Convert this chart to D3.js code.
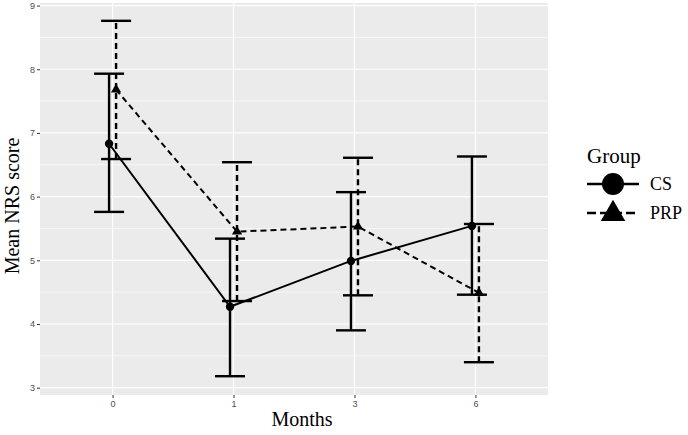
<!DOCTYPE html>
<html>
<head>
<meta charset="utf-8">
<script src="https://cdn.jsdelivr.net/npm/d3@7"></script>
<style>
body{margin:0;background:#fff;}
</style>
</head>
<body>
<svg width="688" height="435"></svg>
<script>
// data
var months = ["0", "1", "3", "6"];
var csMean = [6.83, 4.27, 4.99, 5.54];
var csLow  = [5.76, 3.18, 3.90, 4.46];
var csHigh = [7.93, 5.34, 6.07, 6.63];
var prpMean = [7.68, 5.45, 5.53, 4.49];
var prpLow  = [6.59, 4.36, 4.45, 3.40];
var prpHigh = [8.76, 6.54, 6.61, 5.57];
var yTicks = [3, 4, 5, 6, 7, 8, 9];

var groups = [
  {name:"CS", mean:csMean, low:csLow, high:csHigh, dodge:-3.5, dash:null, legDash:null, shape:"circle"},
  {name:"PRP", mean:prpMean, low:prpLow, high:prpHigh, dodge:3.5, dash:"6,4", legDash:"9,4", shape:"triangle"}
];

var svg = d3.select("svg");
var pL = 40, pR = 548, pT = 3, pB = 395;

var x = d3.scalePoint().domain(months).range([pL, pR]).padding(0.6);
var y = d3.scaleLinear().domain([2.885, 9.04]).range([pB, pT]);

// panel
svg.append("rect")
  .attr("x", pL).attr("y", pT)
  .attr("width", pR-pL).attr("height", pB-pT)
  .attr("fill", "#EBEBEB");

// minor grid
for(var v = 3.5; v < 9; v++){
  svg.append("line")
    .attr("x1", pL).attr("x2", pR)
    .attr("y1", y(v)).attr("y2", y(v))
    .attr("stroke", "#fff").attr("stroke-width", 0.6);
}
// major grid
yTicks.forEach(function(t){
  svg.append("line")
    .attr("x1", pL).attr("x2", pR)
    .attr("y1", y(t)).attr("y2", y(t))
    .attr("stroke", "#fff").attr("stroke-width", 1.2);
});
months.forEach(function(m){
  svg.append("line")
    .attr("x1", x(m)).attr("x2", x(m))
    .attr("y1", pT).attr("y2", pB)
    .attr("stroke", "#fff").attr("stroke-width", 1.2);
});

// axes
var yAxis = svg.append("g")
  .attr("transform", "translate(" + pL + ",0)")
  .call(d3.axisLeft(y).tickValues(yTicks).tickFormat(d3.format("d")).tickSize(3).tickPadding(2));
var xAxis = svg.append("g")
  .attr("transform", "translate(0," + pB + ")")
  .call(d3.axisBottom(x).tickSize(3).tickPadding(3));
[yAxis, xAxis].forEach(function(a){
  a.select(".domain").remove();
  a.selectAll(".tick line").attr("stroke", "#333").attr("stroke-width", 1);
  a.selectAll(".tick text").attr("fill", "#4D4D4D")
    .style("font-family", "Liberation Sans, Arial, sans-serif").style("font-size", "9px");
});

// error bars
groups.forEach(function(g){
  var gg = svg.append("g");
  months.forEach(function(m, i){
    var cx = x(m) + g.dodge;
    gg.append("line")
      .attr("x1", cx).attr("x2", cx)
      .attr("y1", y(g.low[i])).attr("y2", y(g.high[i]))
      .attr("stroke", "#000").attr("stroke-width", 2.4)
      .attr("stroke-dasharray", g.dash);
    [g.low[i], g.high[i]].forEach(function(v){
      gg.append("line")
        .attr("x1", cx-15).attr("x2", cx+15)
        .attr("y1", y(v)).attr("y2", y(v))
        .attr("stroke", "#000").attr("stroke-width", 2.4);
    });
  });
});

// lines and points
var line = d3.line();
groups.forEach(function(g){
  var pts = months.map(function(m, i){ return [x(m) + g.dodge, y(g.mean[i])]; });
  svg.append("path")
    .attr("d", line(pts))
    .attr("fill", "none").attr("stroke", "#000").attr("stroke-width", 2)
    .attr("stroke-dasharray", g.dash);
  pts.forEach(function(p){
    if(g.shape == "circle"){
      svg.append("circle").attr("cx", p[0]).attr("cy", p[1]).attr("r", 4.2).attr("fill", "#000");
    }
    else{
      svg.append("path")
        .attr("d", d3.symbol().type(d3.symbolTriangle).size(45)())
        .attr("transform", "translate(" + p[0] + "," + p[1] + ")")
        .attr("fill", "#000");
    }
  });
});

// axis titles
svg.append("text")
  .attr("x", 302).attr("y", 426)
  .attr("text-anchor", "middle")
  .style("font-family", "Liberation Serif, Times New Roman, serif").style("font-size", "20px")
  .text("Months");
svg.append("text")
  .attr("transform", "translate(19,206) rotate(-90)")
  .attr("text-anchor", "middle")
  .style("font-family", "Liberation Serif, Times New Roman, serif").style("font-size", "20px")
  .text("Mean NRS score");

// legend
var lg = svg.append("g");
lg.append("text")
  .attr("x", 587).attr("y", 163)
  .style("font-family", "Liberation Serif, Times New Roman, serif").style("font-size", "21px")
  .text("Group");
groups.forEach(function(g, i){
  var cy = 184 + i*29;
  lg.append("line")
    .attr("x1", 587).attr("x2", 639)
    .attr("y1", cy).attr("y2", cy)
    .attr("stroke", "#000").attr("stroke-width", 2.4)
    .attr("stroke-dasharray", g.legDash);
  if(g.shape == "circle"){
    lg.append("circle").attr("cx", 613).attr("cy", cy).attr("r", 11).attr("fill", "#000");
  }
  else{
    lg.append("path")
      .attr("d", d3.symbol().type(d3.symbolTriangle).size(260)())
      .attr("transform", "translate(613," + (cy+1) + ")")
      .attr("fill", "#000");
  }
  lg.append("text")
    .attr("x", 650).attr("y", cy + 6)
    .style("font-family", "Liberation Serif, Times New Roman, serif").style("font-size", "18px")
    .text(g.name);
});
</script>
</body>
</html>
